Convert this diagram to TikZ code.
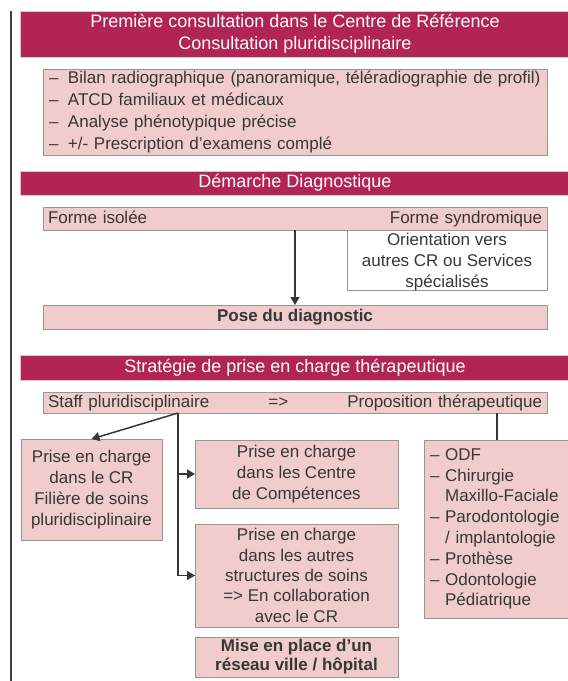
\documentclass[tikz,border=0pt]{standalone}
\usepackage{fontspec}
\setmainfont{Liberation Sans}
\usetikzlibrary{arrows.meta}

\definecolor{crimson}{RGB}{178,36,84}
\definecolor{rosefill}{RGB}{240,204,204}
\definecolor{edgegray}{RGB}{150,150,150}
\definecolor{inkgray}{RGB}{55,55,55}

\begin{document}
\begin{tikzpicture}[x=1pt, y=-1pt, line width=1pt,
  every node/.style={inner sep=0pt, outer sep=0pt, text=inkgray,
    font=\fontsize{17}{20.8}\selectfont},
  banner/.style={anchor=north west, fill=crimson, draw=gray!40, text=white, align=center,
    font=\fontsize{18}{22}\selectfont},
  pinkbox/.style={anchor=north west, fill=rosefill, draw=edgegray, align=center},
  whitebox/.style={anchor=north west, fill=white, draw=edgegray},
  link/.style={draw=inkgray, line width=1.5pt},
  linkarrow/.style={link, -{Triangle[length=8pt,width=9pt]}}]

\useasboundingbox (0,0) rectangle (568,681);

% draw margin rule
\draw[draw=black!75, line width=2pt] (11,11) -- (11,681);

% first consultation
\node[banner, minimum width=550, minimum height=46] (consult) at (20,11)
  {Première consultation dans le Centre de Référence\\Consultation pluridisciplinaire};
\node[pinkbox, minimum width=504, minimum height=86, text width=492, align=left,
  font=\fontsize{17}{21.7}\selectfont] (bilan) at (43,69)
  {\makebox[19pt][l]{–}Bilan radiographique (panoramique, téléradiographie de profil)\\
   \makebox[19pt][l]{–}ATCD familiaux et médicaux\\
   \makebox[19pt][l]{–}Analyse phénotypique précise\\
   \makebox[19pt][l]{–}+/- Prescription d’examens complé};

% diagnostic
\node[banner, minimum width=550, minimum height=24] (demarche) at (20,171) {Démarche Diagnostique};
\node[pinkbox, minimum width=504, minimum height=23, text width=494, align=left] (forme) at (43,207)
  {Forme isolée\hfill Forme syndromique};
\node[whitebox, minimum width=200, minimum height=60] (orient) at (347,230) {};
\node[align=center] (orienttext) at (447,262) {Orientation vers\\autres CR ou Services\\spécialisés};
\node[pinkbox, minimum width=504, minimum height=24, font=\fontsize{17}{20.8}\selectfont\bfseries] (pose) at (43,305)
  {Pose du diagnostic};
\draw[linkarrow] (forme.south) -- (pose.north);

% therapeutic strategy
\node[banner, minimum width=550, minimum height=25] (strategie) at (20,355)
  {Stratégie de prise en charge thérapeutique};
\node[pinkbox, minimum width=504, minimum height=21, text width=494, align=left] (staff) at (43,392)
  {Staff pluridisciplinaire\hfill=>\hfill Proposition thérapeutique};

\node[pinkbox, minimum width=141, minimum height=101] (crcare) at (21,439)
  {Prise en charge\\dans le CR\\Filière de soins\\pluridisciplinaire};
\node[pinkbox, minimum width=203, minimum height=68] (centre) at (195,440)
  {Prise en charge\\dans les Centre\\de Compétences};
\node[pinkbox, minimum width=203, minimum height=103, font=\fontsize{17}{20.4}\selectfont] (autres) at (195,524)
  {Prise en charge\\dans les autres\\structures de soins\\=> En collaboration\\avec le CR};
\node[pinkbox, minimum width=203, minimum height=40, font=\fontsize{17}{19}\selectfont\bfseries] (reseau) at (195,637)
  {Mise en place d’un\\réseau ville / hôpital};
\node[pinkbox, minimum width=146, minimum height=178, text width=134, align=left] (speciality) at (424,440)
  {– ODF\\
   – Chirurgie\\
   \phantom{– }Maxillo-Faciale\\
   – Parodontologie\\
   \phantom{– }/ implantologie\\
   – Prothèse\\
   – Odontologie\\
   \phantom{– }Pédiatrique};

% draw connectors
\coordinate (fork) at (178,413);
\draw[linkarrow] (fork) -- (crcare.north);
\draw[linkarrow] (fork |- centre.west) -- (centre.west);
\draw[linkarrow] (fork) |- (autres.west);
\draw[link] (staff.south -| speciality.north) -- (speciality.north);

\end{tikzpicture}
\end{document}
